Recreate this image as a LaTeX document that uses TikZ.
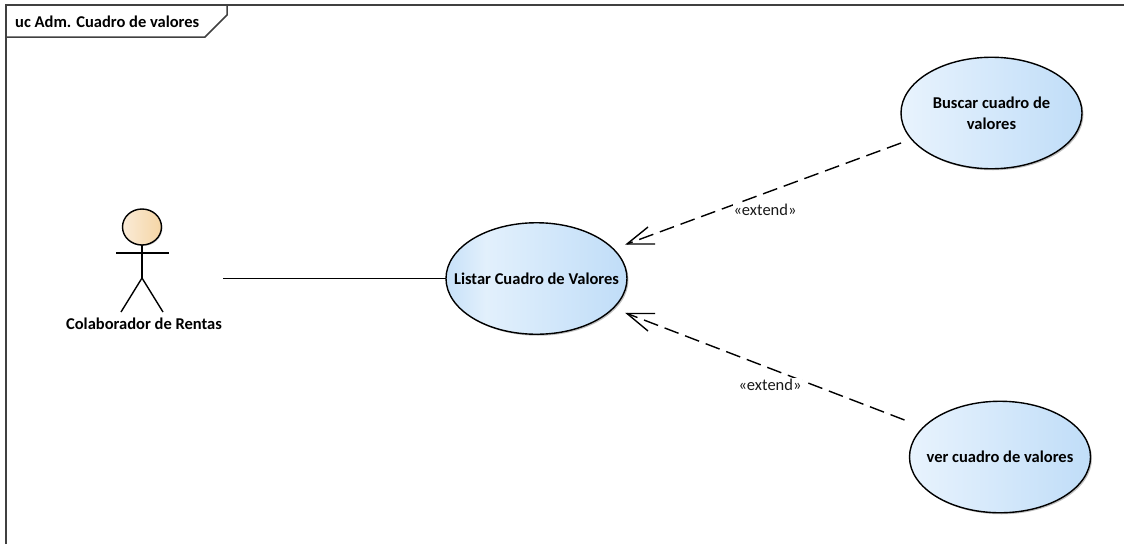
\documentclass[tikz,border=0pt]{standalone}
\usepackage{fontspec}
\setmainfont{Carlito}
\usetikzlibrary{calc,shapes.geometric,shadows}
\definecolor{ucleft}{HTML}{E8F3FD}
\definecolor{ucright}{HTML}{C0DDF8}
\definecolor{ucedge}{HTML}{C6E0F8}
\definecolor{ucmid}{HTML}{E2F0FC}
\definecolor{actL}{HTML}{FAEBD7}
\definecolor{actR}{HTML}{F5D5A5}
\pgfdeclarehorizontalshading{ucshade}{100bp}{color(0bp)=(ucleft);color(25bp)=(ucleft);color(75bp)=(ucright);color(100bp)=(ucright)}
\pgfdeclarehorizontalshading{ucshadeB}{100bp}{color(0bp)=(ucedge);color(25bp)=(ucedge);color(36bp)=(ucmid);color(75bp)=(ucright);color(100bp)=(ucright)}
\pgfdeclarehorizontalshading{actshade}{100bp}{color(0bp)=(actL);color(25bp)=(actL);color(75bp)=(actR);color(100bp)=(actR)}
\newcommand{\uctext}[1]{\makebox[0pt][c]{#1}}
\tikzset{
  x=1pt,y=-1pt,
  lbl/.style={font=\fontsize{16.5}{20}\selectfont\bfseries,text=black,align=center,inner sep=0pt},
  usecase/.style={ellipse,draw=black,line width=1.4pt,minimum width=181pt,minimum height=111.5pt,inner sep=0pt,outer sep=0pt,
    shading=ucshade,drop shadow={shadow xshift=1.5pt,shadow yshift=-1.5pt,fill=black,opacity=.25},
    font=\fontsize{16.5}{21}\selectfont\bfseries,align=center},
  frameline/.style={draw=black!75,line width=1.5pt},
  conn/.style={draw=black,line width=1.4pt},
  ext/.style={conn,dash pattern=on 15pt off 7pt},
  head/.style={conn,line join=miter},
  stereo/.style={font=\fontsize{16.5}{18}\selectfont,fill=white,inner sep=1pt,text=black!90}
}
\begin{document}
\begin{tikzpicture}
\useasboundingbox (0,0) rectangle (1124,544);
% frame
\draw[frameline] (6,544) -- (6,5) -- (1124,5);
\draw[frameline] (227,5) -- (227,15) -- (205,37) -- (6,37);
\node[lbl,anchor=west] (title) at (15,22) {uc Adm. Cuadro de valores};
% actor
\node[ellipse,draw=black,line width=1.4pt,minimum width=39pt,minimum height=36pt,inner sep=0pt,outer sep=0pt,shading=actshade,
  drop shadow={shadow xshift=1pt,shadow yshift=-1pt,fill=black,opacity=.2}] (head) at (142,227) {};
\coordinate (hip) at (142,278);
\coordinate (armL) at (116,253);
\coordinate (armR) at (169,253);
\coordinate (footL) at (121,312);
\coordinate (footR) at (163,312);
\draw[conn] (head.south) -- (hip);
\draw[conn] (armL) -- (armR);
\draw[conn] (footL) -- (hip) -- (footR);
\node[lbl] (actorname) at (144,324) {Colaborador de Rentas};
\coordinate (actorend) at (223,278.5);
% use cases
\node[usecase,shading=ucshadeB] (listar) at (536.5,278.5) {\uctext{Listar Cuadro de Valores}};
\node[usecase] (buscar) at (991.5,113) {\uctext{Buscar cuadro de}\\\uctext{valores}};
\node[usecase] (ver) at (1000,457) {\uctext{ver cuadro de valores}};
% connectors
\draw[conn] (actorend) -- (listar.west);
\coordinate (tipA) at ($(listar.east)+(0,-34.5)$);
\coordinate (tipB) at ($(listar.east)+(0,35)$);
\coordinate (srcA) at ($(buscar.west)+(0,30)$);
\coordinate (srcB) at ($(ver.west)+(-5,-37)$);
\draw[ext] (srcA) -- (tipA);
\draw[ext] (srcB) -- (tipB);
\draw[head] ($(tipA)+(21,-17)$) -- (tipA) -- ($(tipA)+(28,0)$);
\draw[head] ($(tipB)+(28,0)$) -- (tipB) -- ($(tipB)+(21,17.5)$);
\node[stereo] (extA) at (765,210) {«extend»};
\node[stereo] (extB) at (770,385) {«extend»};
\end{tikzpicture}
\end{document}
